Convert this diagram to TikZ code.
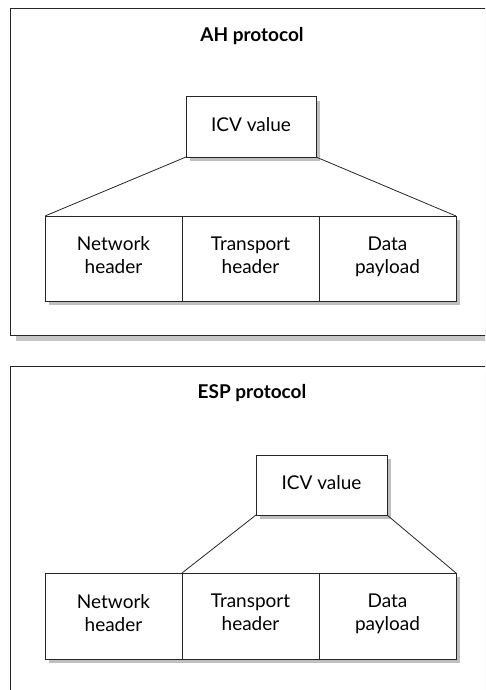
\documentclass[tikz,border=0pt]{standalone}
\usepackage{fontspec}
\setmainfont{Lato}
\usetikzlibrary{positioning, shadows}
\tikzset{
    frame/.style={draw=black!85, line width=1.3pt, fill=white, anchor=north west, inner sep=0pt,
        drop shadow={shadow xshift=5pt, shadow yshift=-5pt, fill=black!22, opacity=1}},
    cell/.style={draw=black!85, line width=1pt, fill=white, minimum width=137pt, minimum height=85pt,
        outer sep=0pt, inner sep=0pt, align=center, font=\fontsize{19}{23}\selectfont,
        execute at end node=\strut,
        drop shadow={shadow xshift=4pt, shadow yshift=-4pt, fill=black!25, opacity=1}},
    icv/.style={cell, minimum width=130pt, minimum height=60pt},
    title/.style={font=\fontsize{19}{23}\selectfont\bfseries},
    link/.style={draw=black!85, line width=0.8pt}
}

\begin{document}
\begin{tikzpicture}[x=1pt, y=-1pt]
    \useasboundingbox (0,0) rectangle (485,690);
    \clip (0,0) rectangle (485,690);
    % AH
    \node [frame, minimum width=490pt, minimum height=327pt] (ahframe) at (10,8) {};
    \node [title] (ahtitle) at (252,36) {AH protocol};
    \node [icv, anchor=north west] (ahicv) at (186,97) {ICV value};
    \node [cell, anchor=north west] (ahnet) at (45,216) {Network\\header};
    \node [cell, right=0pt of ahnet] (ahtrans) {Transport\\header};
    \node [cell, right=0pt of ahtrans] (ahdata) {Data\\payload};
    \draw [link] (ahicv.south west) -- (ahnet.north west);
    \draw [link] (ahicv.south east) -- (ahdata.north east);
    % ESP
    \node [frame, minimum width=490pt, minimum height=340pt] (espframe) at (10,366) {};
    \node [title] (esptitle) at (252,393) {ESP protocol};
    \node [icv, anchor=north west, minimum width=131pt] (espicv) at (256,455) {ICV value};
    \node [cell, anchor=north west, minimum height=86pt] (espnet) at (45,573) {Network\\header};
    \node [cell, minimum height=86pt, right=0pt of espnet] (esptrans) {Transport\\header};
    \node [cell, minimum height=86pt, right=0pt of esptrans] (espdata) {Data\\payload};
    \draw [link] (espicv.south west) -- (esptrans.north west);
    \draw [link] (espicv.south east) -- (espdata.north east);
\end{tikzpicture}
\end{document}
